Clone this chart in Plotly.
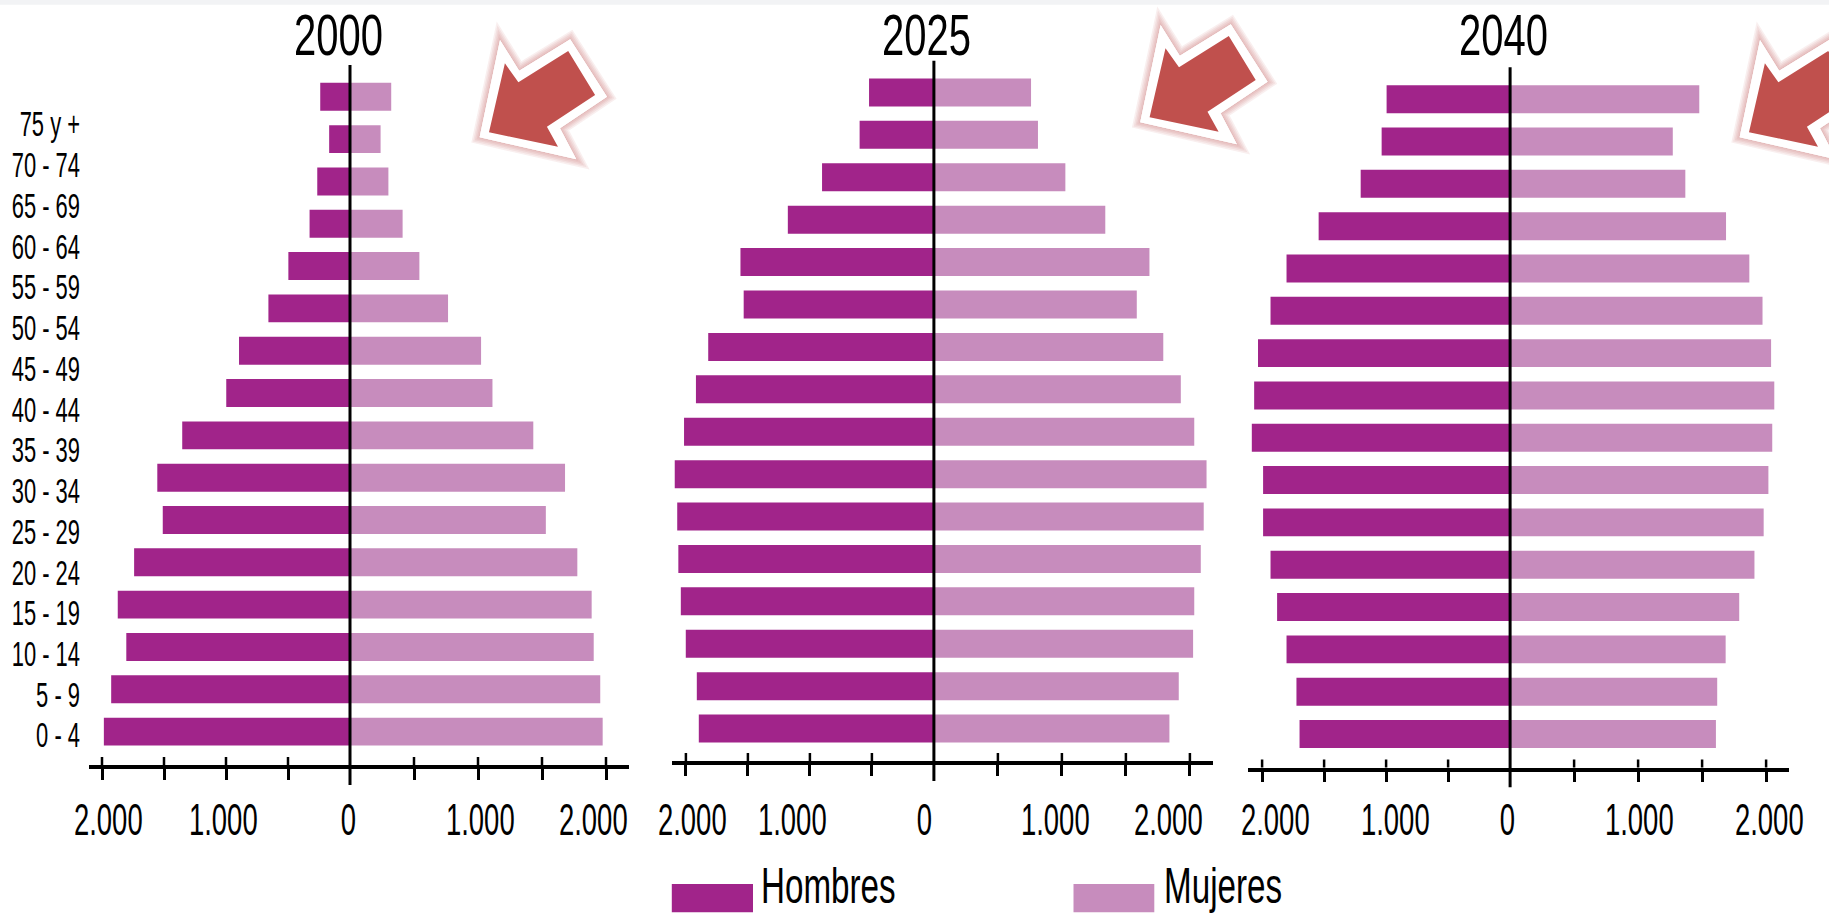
import json
import plotly.graph_objects as go

# Population by age group, thousands of people. Lists run from youngest to oldest.
AGE_GROUPS = ["0 - 4", "5 - 9", "10 - 14", "15 - 19", "20 - 24", "25 - 29", "30 - 34", "35 - 39",
              "40 - 44", "45 - 49", "50 - 54", "55 - 59", "60 - 64", "65 - 69", "70 - 74", "75 y +"]

YEARS = ["2000", "2025", "2040"]

HOMBRES_2000 = [1985, 1926, 1804, 1873, 1741, 1510, 1554, 1353, 998, 895, 658, 497, 326, 264, 168, 240]
MUJERES_2000 = [1974, 1955, 1904, 1888, 1776, 1530, 1680, 1432, 1113, 1024, 766, 542, 411, 300, 239, 322]

HOMBRES_2025 = [1896, 1912, 2001, 2041, 2061, 2070, 2090, 2015, 1919, 1820, 1534, 1560, 1178, 902, 599, 523]
MUJERES_2025 = [1840, 1913, 2025, 2034, 2085, 2108, 2130, 2034, 1929, 1792, 1585, 1684, 1339, 1027, 813, 759]

HOMBRES_2040 = [1698, 1723, 1803, 1879, 1932, 1992, 1992, 2083, 2064, 2033, 1932, 1803, 1544, 1205, 1036, 996]
MUJERES_2040 = [1608, 1618, 1684, 1790, 1909, 1981, 2018, 2048, 2064, 2039, 1972, 1869, 1687, 1369, 1271, 1478]

TICK_VALUES = [500, 1000, 1500, 2000]
TICK_LABELS = {2000: "2.000", 1000: "1.000", 0: "0"}
SERIES_NAMES = ["Hombres", "Mujeres"]

WIDTH, HEIGHT = 1829, 916
DARK, LIGHT = "#a1248a", "#c78cbd"
INK = "#000000"
FONT = "Liberation Sans"
# Horizontal squeeze for the condensed lettering
SQUEEZE_TEXT, SQUEEZE_TITLE, SQUEEZE_LEGEND = 0.61, 0.69, 0.664


def px(x):
    return x / WIDTH


def py(y):
    return 1 - y / HEIGHT


# Layout of each pyramid in page pixels: centre line, axis extents, scale on
# both sides, first bar centre and pitch, and nudges for the axis labels.
PANELS = [
    dict(men=HOMBRES_2000, women=MUJERES_2000, title_x=338, cx=350.0, left=261.4, right=278.6,
         ppu_l=0.124, ppu_r=0.128, axis_y=765.0, top=65.0, bottom=785.0, y0=731.6, step=42.32,
         shifts={-2000: 6, -1000: -3, 0: -2, 1000: 2, 2000: -13}),
    dict(men=HOMBRES_2025, women=MUJERES_2025, title_x=926.7, cx=933.9, left=262.0, right=278.8,
         ppu_l=0.124, ppu_r=0.128, axis_y=761.0, top=60.7, bottom=781.0, y0=728.6, step=42.41,
         shifts={-2000: 7, -1000: -17, 0: -9, 1000: -6, 2000: -21}),
    dict(men=HOMBRES_2040, women=MUJERES_2040, title_x=1503.5, cx=1510.1, left=262.1, right=278.8,
         ppu_l=0.124, ppu_r=0.128, axis_y=767.5, top=67.3, bottom=787.3, y0=734.0, step=42.32,
         shifts={-2000: 13, -1000: 9, 0: -3, 1000: 1, 2000: 3}),
]

fig = go.Figure()
shapes = []
annotations = []
layout = {}


def text(s, x, y, size, xanchor="center", **kw):
    annotations.append(dict(text=s, x=x, y=y, xref=kw.pop("xref", "paper"), yref="paper",
                            xanchor=xanchor, yanchor="middle", showarrow=False,
                            font=dict(family=FONT, size=size, color=INK), **kw))


# Pale strip along the top edge of the page
shapes.append(dict(type="rect", xref="paper", yref="paper", x0=0, x1=1, y0=py(4.7), y1=1,
                   fillcolor="#f2f3f5", line_width=0, layer="below"))

for i, p in enumerate(PANELS):
    xm, xw, yn = 2 * i + 1, 2 * i + 2, i + 1
    xm_id = "x" if xm == 1 else f"x{xm}"
    xw_id = f"x{xw}"
    y_id = "y" if yn == 1 else f"y{yn}"

    fig.add_trace(go.Bar(y=AGE_GROUPS, x=[-v for v in p["men"]], orientation="h", name=SERIES_NAMES[0],
                         marker=dict(color=DARK, line_width=0), width=0.66, xaxis=xm_id, yaxis=y_id,
                         showlegend=False))
    fig.add_trace(go.Bar(y=AGE_GROUPS, x=p["women"], orientation="h", name=SERIES_NAMES[1],
                         marker=dict(color=LIGHT, line_width=0), width=0.66, xaxis=xw_id, yaxis=y_id,
                         showlegend=False))

    x_common = dict(showgrid=False, zeroline=False, showticklabels=False, showline=True,
                    linecolor=INK, linewidth=3.5, ticks="outside", ticklen=11, tickwidth=2.5,
                    tickcolor=INK, anchor=y_id, fixedrange=True)
    layout["xaxis" if xm == 1 else f"xaxis{xm}"] = dict(
        domain=[px(p["cx"] - p["left"]), px(p["cx"])],
        range=[-p["left"] / p["ppu_l"], 0],
        tickvals=[-t for t in TICK_VALUES], **x_common)
    layout[f"xaxis{xw}"] = dict(
        domain=[px(p["cx"]), px(p["cx"] + p["right"])],
        range=[0, p["right"] / p["ppu_r"]],
        tickvals=TICK_VALUES, **x_common)

    # Category range that puts the bars at the measured pitch inside the plot height
    k_low = (p["y0"] - p["axis_y"]) / p["step"]
    k_high = (p["y0"] - p["top"]) / p["step"]
    plot_h = p["axis_y"] - p["top"]
    layout["yaxis" if yn == 1 else f"yaxis{yn}"] = dict(
        domain=[py(p["axis_y"]), py(p["top"])], range=[k_low, k_high], type="category",
        categoryorder="array", categoryarray=AGE_GROUPS, visible=False, anchor=xm_id, fixedrange=True)

    # Centre line, running past the axis
    shapes.append(dict(type="line", xref="paper", yref=f"{y_id} domain", x0=px(p["cx"]), x1=px(p["cx"]),
                       y0=-(p["bottom"] - p["axis_y"]) / plot_h, y1=1, line=dict(color=INK, width=3)))

    # Upper half of the crossing ticks
    for t in TICK_VALUES:
        for ref, val in ((xm_id, -t), (xw_id, t)):
            shapes.append(dict(type="line", xref=ref, yref=f"{y_id} domain", x0=val, x1=val,
                               y0=0, y1=8 / plot_h, line=dict(color=INK, width=2.5)))

    # Axis numbers
    for val, shift in p["shifts"].items():
        ref = xm_id if val <= 0 else xw_id
        text(TICK_LABELS[abs(val)], val, py(819.3), 45, xref=ref, xshift=shift)

    # Year heading
    text(YEARS[i], px(p["title_x"]), py(34.5), 58)

# Age labels on the far left, on their own tighter pitch
LABEL_TOP, LABEL_STEP = 124.0, 40.73
for n, label in enumerate(reversed(AGE_GROUPS)):
    text(label, px(82), py(LABEL_TOP + n * LABEL_STEP), 36, xanchor="right")

# Legend
for name, colour, x0, x1, tx in ((SERIES_NAMES[0], DARK, 671.8, 753.0, 759.4),
                                 (SERIES_NAMES[1], LIGHT, 1073.5, 1154.3, 1161.5)):
    shapes.append(dict(type="rect", xref="paper", yref="paper", x0=px(x0), x1=px(x1),
                       y0=py(912.3), y1=py(884.0), fillcolor=colour, line_width=0))
    text(name, px(tx), py(886), 50, xanchor="left")

# Call-out arrows: a white-edged red arrow with a soft pink halo
ARROW_OUTER = [(479.6, 137.3), (500.0, 40.0), (519.2, 70.7), (570.2, 39.3), (607.0, 96.7), (560.0, 128.3), (576.3, 159.3)]
ARROW_INNER = [(489.0, 132.3), (504.9, 63.3), (518.4, 82.3), (568.2, 51.0), (595.1, 95.0), (546.9, 126.7), (558.0, 146.7)]
ARROW_OFFSETS = [(0, 0), (660.6, -15), (1260, 0)]


def arrow_path(points, dx, dy):
    coords = [f"{px(x + dx):.5f},{py(y + dy):.5f}" for x, y in points]
    return "M" + " L".join(coords) + " Z"


for dx, dy in ARROW_OFFSETS:
    outer = arrow_path(ARROW_OUTER, dx, dy)
    for w in (14, 11, 8, 5, 2):
        shapes.append(dict(type="path", path=outer, xref="paper", yref="paper", fillcolor="#ffffff",
                           line=dict(color="rgba(192,80,77,0.09)", width=w)))
    shapes.append(dict(type="path", path=outer, xref="paper", yref="paper", fillcolor="#ffffff", line_width=0))
    shapes.append(dict(type="path", path=arrow_path(ARROW_INNER, dx, dy), xref="paper", yref="paper",
                       fillcolor="#c0504d", line_width=0))

fig.update_layout(width=WIDTH, height=HEIGHT, margin=dict(l=0, r=0, t=0, b=0), paper_bgcolor="#ffffff",
                  plot_bgcolor="rgba(0,0,0,0)", barmode="overlay", shapes=shapes, annotations=annotations,
                  showlegend=False, **layout)

# Condense the lettering, keeping each label's anchored side in place
CONDENSE_JS = """
var ages = %s, names = %s, years = %s;
document.querySelectorAll('.annotation-text').forEach(function (t) {
  var s = t.textContent;
  var side = ages.indexOf(s) >= 0 ? 'right' : names.indexOf(s) >= 0 ? 'left' : 'center';
  var k = names.indexOf(s) >= 0 ? %s : years.indexOf(s) >= 0 ? %s : %s;
  t.style.transformBox = 'fill-box';
  t.style.transformOrigin = side + ' center';
  t.style.transform = 'scaleX(' + k + ')';
});
""" % (json.dumps(AGE_GROUPS), json.dumps(SERIES_NAMES), json.dumps(YEARS),
       SQUEEZE_LEGEND, SQUEEZE_TITLE, SQUEEZE_TEXT)
fig.write_html("out.html", config={"displayModeBar": False}, post_script=CONDENSE_JS)
